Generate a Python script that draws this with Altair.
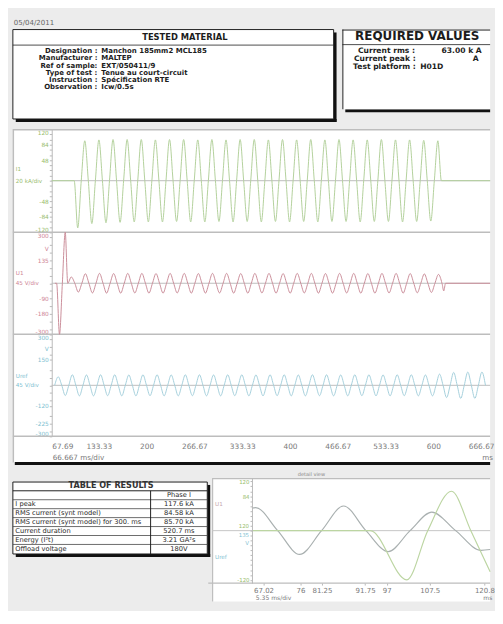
import json
import altair as alt
import pandas as pd

# ---------------- data ----------------
report_date = "05/04/2011"

tested_title = "TESTED MATERIAL"
tested_labels = ["Designation :", "Manufacturer :", "Ref of sample:", "Type of test :",
                 "Instruction :", "Observation :"]
tested_values = ["Manchon 185mm2 MCL185", "MALTEP", "EXT/050411/9",
                 "Tenue au court-circuit", "Spécification RTE", "Icw/0.5s"]

required_title = "REQUIRED VALUES"
required_labels = ["Current rms :", "Current peak :", "Test platform :"]
required_values = ["63.00 k A", "A", "H01D"]

results_title = "TABLE OF RESULTS"
results_labels = ["", "I peak", "RMS current (synt model)",
                  "RMS current (synt model) for 300. ms", "Current duration",
                  "Energy (I²t)", "Offload voltage"]
results_values = ["Phase I", "117.6 kA", "84.58 kA", "85.70 kA", "520.7 ms",
                  "3.21 GA²s", "180V"]

# main oscillogram (time in ms)
time_domain = [67.69, 679.2]
time_ticks = [67.69, 133.33, 200, 266.67, 333.33, 400, 466.67, 533.33, 600, 666.67]
half_period = 9.85

# current I1 (kA): start of flow and extreme of every half cycle
i1_start = 99.0
i1_extremes = [-110, 93, -100, 95, -98, 96, -97, 96, -96, 96,
               -96, 95, -96, 96, -95, 96, -96, 95, -96, 96,
               -95, 95, -96, 96, -95, 96, -96, 95, -95, 96,
               -96, 95, -95, 96, -96, 95, -95, 96, -95, 95,
               -96, 95, -95, 96, -95, 95, -96, 95, -95, 94,
               -94, 93]
i1_ticks = [-120, -108, -96, -84, -72, -60, -48, -36, -24, -12, 0,
            12, 24, 36, 48, 60, 72, 84, 96, 108, 120]
i1_labels = [120, 84, 48, -48, -84, -120]

# voltage U1 (V): switching transient then half cycles, then tail
u1_spike_t = [72.0, 74.5, 78.5, 82.5, 86.5, 90.0]
u1_spike_v = [0, 0, -300, 0, 300, 0]
u1_extremes = [37, -52, 56, -57, 58, -58, 57, -58, 58, -57,
               58, -58, 57, -58, 58, -57, 58, -58, 57, -58,
               58, -57, 58, -58, 57, -58, 58, -57, 58, -58,
               57, -58, 58, -57, 58, -58, 57, -58, 58, -57,
               58, -58, 57, -58, 58, -57, 58, -58, 57, -56,
               55, -54, 52]
u1_tail_t = [614.5, 617.0, 679.2]
u1_tail_v = [-45, 0, 0]
u_ticks = [-300, -270, -225, -180, -135, -90, -45, 0, 45, 90, 135, 180, 225, 270, 300]
u1_labels = [300, 135, -90, -180, -300]

# reference voltage Uref (V)
uref_start = 71.8
uref_extremes = [50, -60, 62, -62, 61, -62, 62, -61, 62, -62,
                 61, -62, 62, -61, 62, -62, 61, -62, 62, -61,
                 62, -62, 61, -62, 62, -61, 62, -62, 61, -62,
                 62, -61, 62, -62, 61, -62, 62, -61, 62, -62,
                 61, -62, 62, -61, 62, -62, 61, -62, 62, -61,
                 62, -62, 61, -62, 66, -72, 76, -77, 78, -77,
                 78]
uref_ticks = [-300, -270, -225, -180, -120, -90, -45, 0, 45, 90, 150, 180, 225, 270, 300]
uref_labels = [300, 150, -120, -225, -300]

# detail view
detail_domain = [64.2, 122.2]
detail_ticks = [67.02, 76, 81.25, 91.75, 97, 107.5, 120.8]
detail_volt_t = [64.2, 65.1, 70.45, 75.8, 81.15, 86.5, 91.95, 97.4, 102.7, 108.0, 113.8, 120.0, 122.2]
detail_volt_v = [55, 56, 0, -58, 0, 60, 0, -51, 0, 45, 0, -48, -46]
detail_cur_t = [64.2, 93.0, 101.9, 107.0, 112.8, 117.5, 122.2]
detail_cur_v = [0, 0, -120, 0, 96, 0, -100]
detail_y_ticks = [-120, -108, -96, -84, -72, -60, -48, -36, -24, -12, 0,
                  12, 24, 36, 48, 60, 72, 84, 96, 108, 120]
detail_y_labels = [120, 84, -120]
detail_extra_txt = ["120", "135", "V"]
detail_extra_v = [11, -11, -30]

# ---------------- styles / layout ----------------
FONT = "DejaVu Sans"
BG = "#ececec"
INK = "#1c1c1c"
SHADOW = "#111111"
GREEN, GREEN_LAB = "#b2cf9a", "#98bd6c"
RED, RED_LAB = "#c98b98", "#cf8696"
BLUE, BLUE_LAB = "#a3cedb", "#7fbfd2"
FRAME = "#bdbdbd"
AXIS_TXT = "#7a7a7a"
W = 491


def wave(start, half, extremes):
    ts, vs = [start], [0]
    for k, e in enumerate(extremes):
        ts += [start + half * k + half / 2, start + half * (k + 1)]
        vs += [e, 0]
    return ts, vs


def one(s=""):
    return pd.DataFrame({"txt": [s]})


def hrule(y, x1, x2, color, w=1.0):
    return alt.Chart(one()).mark_rule(color=color, strokeWidth=w).encode(
        x=alt.value(x1), x2=alt.value(x2), y=alt.value(y))


def vrule(x, y1, y2, color, w=1.0):
    return alt.Chart(one()).mark_rule(color=color, strokeWidth=w).encode(
        x=alt.value(x), y=alt.value(y1), y2=alt.value(y2))


def box(x1, x2, y1, y2, stroke=None):
    kw = dict(fill="white")
    if stroke:
        kw.update(stroke=stroke, strokeWidth=1)
    return alt.Chart(one()).mark_rect(**kw).encode(
        x=alt.value(x1), x2=alt.value(x2), y=alt.value(y1), y2=alt.value(y2))


def label(s, x, y, size, color=INK, align="left", weight="normal"):
    return alt.Chart(one(s)).mark_text(
        font=FONT, fontSize=size, color=color, align=align, baseline="middle",
        fontWeight=weight).encode(x=alt.value(x), y=alt.value(y), text="txt:N")


PIX = dict(scale=None, axis=None)

# ================= row 1 : header boxes =================
R1_H = 100
TM_X2, TM_Y1, TM_Y2 = 330, 13.5, 105.5
tm_df = pd.DataFrame({"label": tested_labels, "value": tested_values,
                      "y": [35.6 + 7.5 * i for i in range(len(tested_labels))]})
RV_X1, RV_Y2 = 339, 95.5
rv_df = pd.DataFrame({"label": required_labels, "value": required_values,
                      "y": [35.6, 44.0, 52.3],
                      "lx": [RV_X1 + 16, RV_X1 + 12, RV_X1 + 11],
                      "vx": [RV_X1 + 102, RV_X1 + 134, RV_X1 + 80]})

row1 = alt.layer(
    label(report_date, 1, 7, 7.2, "#666"),
    # tested material
    hrule(TM_Y2 + 1.5, 3, TM_X2 + 3, SHADOW, 3),
    vrule(TM_X2 + 1.5, TM_Y1 + 3, TM_Y2 + 3, SHADOW, 3),
    box(0, TM_X2, TM_Y1, TM_Y2, INK),
    label(tested_title, 177, 21.5, 8.6, INK, "center", "bold"),
    hrule(29.5, 0, TM_X2, INK, 0.8),
    alt.Chart(tm_df).mark_text(font=FONT, fontSize=7.2, fontWeight="bold", color=INK,
                               align="right", baseline="middle").encode(
        x=alt.value(87), y=alt.Y("y:Q", **PIX), text="label:N"),
    alt.Chart(tm_df).mark_text(font=FONT, fontSize=7.2, fontWeight="bold", color=INK,
                               align="left", baseline="middle").encode(
        x=alt.value(91), y=alt.Y("y:Q", **PIX), text="value:N"),
    # required values
    hrule(RV_Y2 + 1.5, RV_X1 + 3, W, SHADOW, 3),
    box(RV_X1, W, TM_Y1, RV_Y2),
    hrule(TM_Y1 + 0.5, RV_X1, W, INK, 1),
    vrule(RV_X1 + 0.5, TM_Y1, RV_Y2, INK, 1),
    label(required_title, RV_X1 + 77, 20.7, 12.3, INK, "center", "bold"),
    hrule(29.0, RV_X1, W, INK, 0.8),
    alt.Chart(rv_df).mark_text(font=FONT, fontSize=7.8, fontWeight="bold", color=INK,
                               align="left", baseline="middle").encode(
        x=alt.X("lx:Q", **PIX), y=alt.Y("y:Q", **PIX), text="label:N"),
    alt.Chart(rv_df).mark_text(font=FONT, fontSize=7.8, fontWeight="bold", color=INK,
                               align="left", baseline="middle").encode(
        x=alt.X("vx:Q", **PIX), y=alt.Y("y:Q", **PIX), text="value:N"),
).properties(width=W, height=R1_H, view=alt.ViewBackground(fill=None, stroke=None))

# ================= row 2 : main oscillogram =================
MAIN_H = 343
AX_X = 40
STRIP_BOUNDS = [0, 106, 211, 316]

x_main = alt.X("t:Q",
               scale=alt.Scale(domain=time_domain, range=[AX_X, W], nice=False, zero=False),
               axis=alt.Axis(orient="bottom", offset=-(MAIN_H - STRIP_BOUNDS[3]), values=time_ticks,
                             format=".5~", labelFlush=True, labelOverlap=False, ticks=False,
                             domain=False, grid=False, labelFont=FONT, labelFontSize=7.6,
                             labelColor=AXIS_TXT, labelPadding=6, title=None))


def strip(ts, vs, color, lab_color, rng, dom, ticks, shown, texts, text_vals, unit_v=None):
    ysc = alt.Scale(domain=dom, range=rng, nice=False, zero=False)
    yax = alt.Axis(orient="left", offset=-AX_X, values=ticks,
                   labelExpr="indexof(%s, datum.value) >= 0 ? '' + datum.value : ''" % json.dumps(shown),
                   labelColor=lab_color, labelFont=FONT, labelFontSize=6, labelPadding=1,
                   labelFlush=True, labelOverlap=False, tickSize=2.5, tickColor="#b8b8b8",
                   domainColor="#b8b8b8", grid=False, title=None)
    yenc = alt.Y("v:Q", scale=ysc, axis=yax)
    layers = [
        alt.Chart(pd.DataFrame({"v": [0]})).mark_rule(color="#bcbcbc", strokeWidth=1).encode(
            x=alt.value(AX_X), x2=alt.value(W), y=yenc),
        alt.Chart(pd.DataFrame({"t": ts, "v": vs})).mark_line(
            color=color, strokeWidth=1, interpolate="monotone").encode(x=x_main, y=yenc),
        alt.Chart(pd.DataFrame({"txt": texts, "v": text_vals})).mark_text(
            font=FONT, fontSize=5.8, color=lab_color, align="left", baseline="middle").encode(
            x=alt.value(3), y=yenc, text="txt:N"),
    ]
    if unit_v is not None:
        layers.append(alt.Chart(pd.DataFrame({"txt": ["V"], "v": [unit_v]})).mark_text(
            font=FONT, fontSize=6, color=lab_color, align="right", baseline="middle").encode(
            x=alt.value(AX_X - 3), y=yenc, text="txt:N"))
    return alt.layer(*layers)


i1_t, i1_v = wave(i1_start, half_period, i1_extremes)
i1_t = [time_domain[0]] + i1_t + [time_domain[1]]
i1_v = [0] + i1_v + [0]

u1_t0 = u1_spike_t[-1]
u1_wt, u1_wv = wave(u1_t0, half_period, u1_extremes)
u1_t = u1_spike_t[:-1] + u1_wt + u1_tail_t
u1_v = u1_spike_v[:-1] + u1_wv + u1_tail_v

uref_t, uref_v = wave(uref_start, half_period, uref_extremes)

g_strip = strip(i1_t, i1_v, GREEN, GREEN_LAB, [STRIP_BOUNDS[1], STRIP_BOUNDS[0]], [-120, 120],
                i1_ticks, i1_labels, ["I1", "20 kA/div"], [27, 0])
r_strip = strip(u1_t, u1_v, RED, RED_LAB, [STRIP_BOUNDS[2], STRIP_BOUNDS[1]], [-300, 300],
                u_ticks, u1_labels, ["U1", "45 V/div"], [60, 0], unit_v=199)
b_strip = strip(uref_t, uref_v, BLUE, BLUE_LAB, [STRIP_BOUNDS[3], STRIP_BOUNDS[2]], [-300, 300],
                uref_ticks, uref_labels, ["Uref", "45 V/div"], [54, 0], unit_v=214)

main = alt.layer(
    hrule(0.5, 0, W, FRAME, 1.5),
    vrule(0.5, 0, MAIN_H, FRAME, 1.5),
    hrule(STRIP_BOUNDS[1], 0, W, FRAME, 1.5),
    hrule(STRIP_BOUNDS[2], 0, W, FRAME, 1.5),
    hrule(STRIP_BOUNDS[3], 0, W, FRAME, 1.5),
    hrule(MAIN_H + 1, 2, W, SHADOW, 3),
    g_strip, r_strip, b_strip,
    label("66.667 ms/div", AX_X + 1, 338, 7.4, AXIS_TXT),
    label("ms", 483, 338, 7.4, AXIS_TXT),
).resolve_scale(y="independent").resolve_axis(y="independent").properties(
    width=W, height=MAIN_H, view=alt.ViewBackground(fill="white", stroke=None))

# ================= row 3 : results table + detail view =================
R3_H = 127
TB_W, TB_TOP, TB_BOT, TB_HEAD = 200, 4, 78, 13
ROW_H = 9.2
COL_X = 141.7
tb_df = pd.DataFrame({"label": results_labels, "value": results_values,
                      "y": [TB_HEAD + ROW_H * (i + 0.5) for i in range(len(results_labels))]})
tb_lines = pd.DataFrame({"y": [TB_HEAD + ROW_H * k for k in range(1, len(results_labels))]})
table = alt.layer(
    hrule(TB_BOT + 1.5, 3, TB_W + 3, SHADOW, 3),
    vrule(TB_W + 1.5, TB_TOP + 3, TB_BOT + 3, SHADOW, 3),
    box(0, TB_W, TB_TOP, TB_BOT, INK),
    label(results_title, 101, 8.4, 8.3, "#333", "center", "bold"),
    hrule(TB_HEAD, 0, TB_W, INK, 1),
    alt.Chart(tb_lines).mark_rule(color="#444", strokeWidth=0.8).encode(
        x=alt.value(0), x2=alt.value(TB_W), y=alt.Y("y:Q", **PIX)),
    vrule(COL_X, TB_HEAD, TB_BOT, INK, 1),
    alt.Chart(tb_df).mark_text(font=FONT, fontSize=6.9, color="#2a2a2a", align="left",
                               baseline="middle").encode(
        x=alt.value(2.5), y=alt.Y("y:Q", **PIX), text="label:N"),
    alt.Chart(tb_df).mark_text(font=FONT, fontSize=6.9, color="#2a2a2a", align="center",
                               baseline="middle").encode(
        x=alt.value((COL_X + TB_W) / 2), y=alt.Y("y:Q", **PIX), text="value:N"),
)

DX0 = 205
DPLOT_H = 108
DAX = DX0 + 41
dx = alt.X("t:Q", scale=alt.Scale(domain=detail_domain, range=[DAX, W], nice=False, zero=False),
           axis=alt.Axis(orient="bottom", offset=-(R3_H - DPLOT_H), values=detail_ticks, format=".5~",
                         ticks=True, tickSize=2, tickColor="#b8b8b8", domain=False, grid=False,
                         labelFont=FONT, labelFontSize=7.2, labelColor=AXIS_TXT, labelPadding=2,
                         labelOverlap=False, labelFlush=False, title=None, zindex=2))
dy = alt.Y("v:Q", scale=alt.Scale(domain=[-128, 128], range=[DPLOT_H, 0], nice=False, zero=False),
           axis=alt.Axis(orient="left", offset=-DAX, values=detail_y_ticks,
                         labelExpr="indexof(%s, datum.value) >= 0 ? '' + datum.value : ''"
                                   % json.dumps(detail_y_labels),
                         labelColor=GREEN_LAB, labelFont=FONT, labelFontSize=5.6, labelPadding=1,
                         labelFlush=False, labelOverlap=False, tickSize=2, tickColor="#b8b8b8",
                         domainColor="#b8b8b8", grid=False, title=None, zindex=2))
detail = alt.layer(
    box(DX0, W, 0, R3_H),
    label("detail view", DX0 + 88, -4, 5.2, "#888"),
    hrule(0.5, DX0, W, FRAME, 1.2),
    vrule(DX0 + 0.5, 0, R3_H, FRAME, 1.2),
    hrule(DPLOT_H, DX0 - 4, W, FRAME, 1.2),
    alt.Chart(pd.DataFrame({"v": [0]})).mark_rule(color="#c4c4c4", strokeWidth=1).encode(
        x=alt.value(DX0), x2=alt.value(W), y=dy),
    alt.Chart(pd.DataFrame({"t": detail_volt_t, "v": detail_volt_v})).mark_line(
        color="#a9b0b0", strokeWidth=1.2, interpolate="monotone").encode(x=dx, y=dy),
    alt.Chart(pd.DataFrame({"t": detail_cur_t, "v": detail_cur_v})).mark_line(
        color="#bcd5a2", strokeWidth=1.2, interpolate="monotone").encode(x=dx, y=dy),
    alt.Chart(pd.DataFrame({"txt": detail_extra_txt, "v": detail_extra_v,
                            "c": [GREEN_LAB, BLUE_LAB, BLUE_LAB]})).mark_text(
        font=FONT, fontSize=5.6, align="right", baseline="middle").encode(
        x=alt.value(DAX - 3), y=dy, text="txt:N", color=alt.Color("c:N", scale=None)),
    alt.Chart(pd.DataFrame({"txt": ["U1", "Uref"], "v": [64, -64],
                            "c": ["#c6a6ae", BLUE_LAB]})).mark_text(
        font=FONT, fontSize=5.8, align="left", baseline="middle").encode(
        x=alt.value(DX0 + 3), y=dy, text="txt:N", color=alt.Color("c:N", scale=None)),
    label("5.35 ms/div", DAX + 4, R3_H - 3.5, 6.2, AXIS_TXT),
    label("ms", W - 7, R3_H - 3.5, 6.2, AXIS_TXT),
)

row3 = alt.layer(table, detail).resolve_scale(x="independent", y="independent").resolve_axis(
    x="independent", y="independent").properties(
    width=W, height=R3_H, view=alt.ViewBackground(fill=None, stroke=None))

chart = alt.vconcat(row1, main, row3, spacing=16, bounds="flush").properties(
    padding={"left": 4, "top": 0, "right": 0, "bottom": 0}, background=BG
).configure_view(stroke=None)

chart.save("out.html", embed_options={"renderer": "svg", "actions": False})
